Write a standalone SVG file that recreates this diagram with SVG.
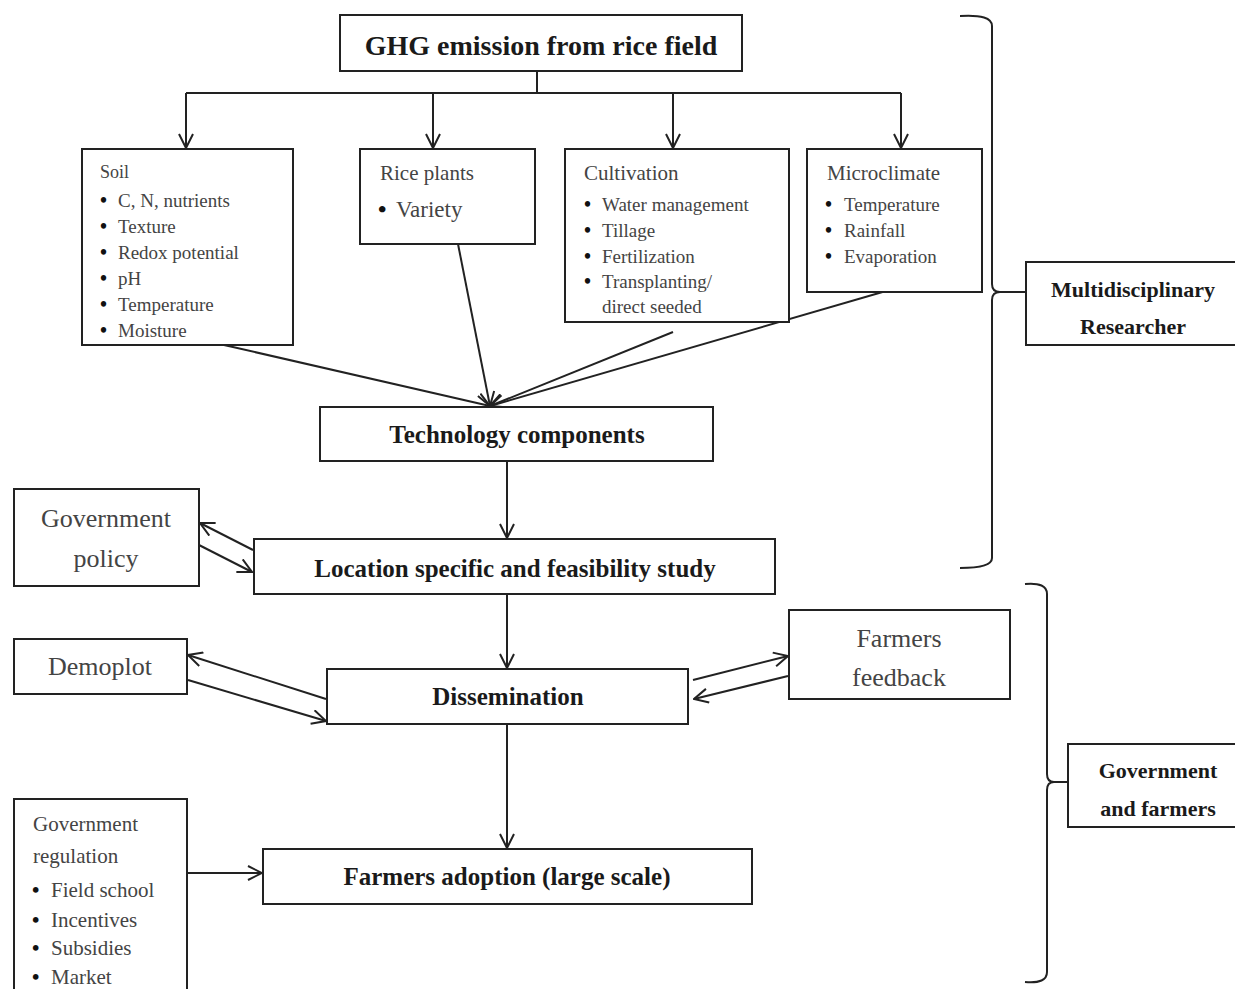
<svg xmlns="http://www.w3.org/2000/svg" width="1235" height="989" viewBox="0 0 1235 989">
<style>
.box{fill:#fff;stroke:#222;stroke-width:2}
.ln{fill:none;stroke:#222;stroke-width:2}
.arr{fill:none;stroke:#222;stroke-width:2;marker-end:url(#ah)}
.b{font-family:"Liberation Serif",serif;font-weight:bold;fill:#1a1a1a}
.r{font-family:"Liberation Serif",serif;fill:#444}
.c{text-anchor:middle}
.bu{font-family:"Liberation Serif",serif;font-weight:bold;fill:#111}
</style>
<defs>
<marker id="ah" viewBox="0 0 16 16" refX="15" refY="8" markerWidth="16" markerHeight="16" markerUnits="userSpaceOnUse" orient="auto">
<path d="M1,1 L15,8 L1,15" fill="none" stroke="#222" stroke-width="2"/>
</marker>
</defs>
<rect width="1235" height="989" fill="#fff"/>

<g id="connectors">
<path class="ln" d="M537,71 V93 M186,93 H901"/>
<path class="arr" d="M186,93 V148"/>
<path class="arr" d="M433,93 V148"/>
<path class="arr" d="M673,93 V148"/>
<path class="arr" d="M901,93 V148"/>
<path class="arr" d="M224,345 L490,406"/>
<path class="arr" d="M458,244 L490,406"/>
<path class="arr" d="M673,332 L490,406"/>
<path class="arr" d="M886,291 L490,406"/>
<path class="arr" d="M507,461 V538"/>
<path class="arr" d="M253,550 L200,523"/>
<path class="arr" d="M197,544 L252,572"/>
<path class="arr" d="M507,594 V668"/>
<path class="arr" d="M326,699 L188,655"/>
<path class="arr" d="M188,680 L326,721"/>
<path class="arr" d="M693,680 L788,656"/>
<path class="arr" d="M788,676 L694,699"/>
<path class="arr" d="M507,724 V848"/>
<path class="arr" d="M187,873 L262,873"/>
<path class="ln" d="M960,16 Q992,14 992,26 L992,284 Q992,292 1000,292 Q992,292 992,300 L992,558 Q992,568 960,568 M1000,292 H1026"/>
<path class="ln" d="M1025,584 Q1047,582 1047,594 L1047,774 Q1047,782 1054,782 Q1047,782 1047,790 L1047,972 Q1047,984 1025,982 M1054,782 H1068"/>
</g>

<g id="ghg">
<rect class="box" x="340" y="15" width="402" height="56"/>
<text class="b c" x="541" y="55" font-size="28">GHG emission from rice field</text>
</g>

<g id="soil">
<rect class="box" x="82" y="149" width="211" height="196"/>
<text class="r" x="100" y="178" font-size="18">Soil</text>
<g font-size="20">
<text class="bu" x="100" y="207">•</text><text class="r" x="118" y="207" font-size="19">C, N, nutrients</text>
<text class="bu" x="100" y="233">•</text><text class="r" x="118" y="233" font-size="19">Texture</text>
<text class="bu" x="100" y="259">•</text><text class="r" x="118" y="259" font-size="19">Redox potential</text>
<text class="bu" x="100" y="285">•</text><text class="r" x="118" y="285" font-size="19">pH</text>
<text class="bu" x="100" y="311">•</text><text class="r" x="118" y="311" font-size="19">Temperature</text>
<text class="bu" x="100" y="337">•</text><text class="r" x="118" y="337" font-size="19">Moisture</text>
</g>
</g>

<g id="rice">
<rect class="box" x="360" y="149" width="175" height="95"/>
<text class="r" x="380" y="180" font-size="21">Rice plants</text>
<text class="bu" x="378" y="217" font-size="24">•</text>
<text class="r" x="396" y="217" font-size="23">Variety</text>
</g>

<g id="cultivation">
<rect class="box" x="565" y="149" width="224" height="173"/>
<text class="r" x="584" y="180" font-size="21">Cultivation</text>
<g font-size="20">
<text class="bu" x="584" y="211">•</text><text class="r" x="602" y="211" font-size="19">Water management</text>
<text class="bu" x="584" y="237">•</text><text class="r" x="602" y="237" font-size="19">Tillage</text>
<text class="bu" x="584" y="263">•</text><text class="r" x="602" y="263" font-size="19">Fertilization</text>
<text class="bu" x="584" y="288">•</text><text class="r" x="602" y="288" font-size="19">Transplanting/</text>
<text class="r" x="602" y="313" font-size="19">direct seeded</text>
</g>
</g>

<g id="microclimate">
<rect class="box" x="807" y="149" width="175" height="143"/>
<text class="r" x="827" y="180" font-size="21">Microclimate</text>
<g font-size="20">
<text class="bu" x="825" y="211">•</text><text class="r" x="844" y="211" font-size="19">Temperature</text>
<text class="bu" x="825" y="237">•</text><text class="r" x="844" y="237" font-size="19">Rainfall</text>
<text class="bu" x="825" y="263">•</text><text class="r" x="844" y="263" font-size="19">Evaporation</text>
</g>
</g>

<g id="researcher">
<rect class="box" x="1026" y="262" width="215" height="83"/>
<text class="b c" x="1133" y="297" font-size="22">Multidisciplinary</text>
<text class="b c" x="1133" y="334" font-size="22">Researcher</text>
</g>

<g id="tech">
<rect class="box" x="320" y="407" width="393" height="54"/>
<text class="b c" x="517" y="443" font-size="25">Technology components</text>
</g>

<g id="govpolicy">
<rect class="box" x="14" y="489" width="185" height="97"/>
<text class="r c" x="106" y="527" font-size="26">Government</text>
<text class="r c" x="106" y="567" font-size="26">policy</text>
</g>

<g id="location">
<rect class="box" x="254" y="539" width="521" height="55"/>
<text class="b c" x="515" y="577" font-size="25">Location specific and feasibility study</text>
</g>

<g id="demoplot">
<rect class="box" x="14" y="639" width="173" height="55"/>
<text class="r c" x="100" y="675" font-size="26">Demoplot</text>
</g>

<g id="dissemination">
<rect class="box" x="327" y="669" width="361" height="55"/>
<text class="b c" x="508" y="705" font-size="25">Dissemination</text>
</g>

<g id="feedback">
<rect class="box" x="789" y="610" width="221" height="89"/>
<text class="r c" x="899" y="647" font-size="26">Farmers</text>
<text class="r c" x="899" y="686" font-size="26">feedback</text>
</g>

<g id="govfarmers">
<rect class="box" x="1068" y="744" width="175" height="83"/>
<text class="b c" x="1158" y="778" font-size="22">Government</text>
<text class="b c" x="1158" y="816" font-size="22">and farmers</text>
</g>

<g id="adoption">
<rect class="box" x="263" y="849" width="489" height="55"/>
<text class="b c" x="507" y="885" font-size="25">Farmers adoption (large scale)</text>
</g>

<g id="govregulation">
<path class="ln" d="M14,995 V799 H187 V995"/>
<g font-size="21">
<text class="r" x="33" y="831">Government</text>
<text class="r" x="33" y="863">regulation</text>
<text class="bu" x="32" y="897">•</text><text class="r" x="51" y="897">Field school</text>
<text class="bu" x="32" y="927">•</text><text class="r" x="51" y="927">Incentives</text>
<text class="bu" x="32" y="955">•</text><text class="r" x="51" y="955">Subsidies</text>
<text class="bu" x="32" y="984">•</text><text class="r" x="51" y="984">Market</text>
</g>
</g>
</svg>
